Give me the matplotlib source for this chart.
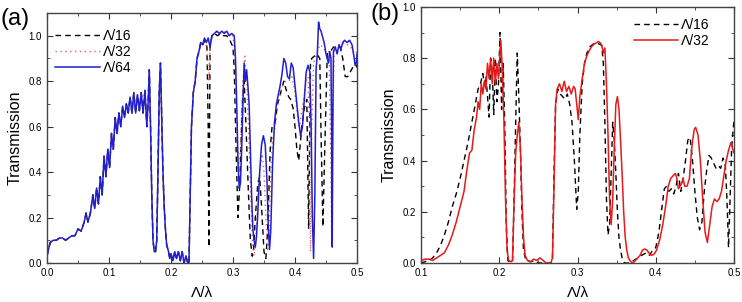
import matplotlib
matplotlib.use("Agg")
import matplotlib.pyplot as plt
from matplotlib.ticker import MultipleLocator

plt.rcParams['font.family'] = ['Liberation Sans', 'DejaVu Sans']

# panel (a): part where all three curves lie on top of each other (0 - 0.25)
a_base_x = [0.0, 0.005, 0.01, 0.015, 0.02, 0.025, 0.03, 0.035, 0.04, 0.045,
            0.05, 0.055, 0.06, 0.063, 0.066, 0.07, 0.074, 0.077, 0.08, 0.083,
            0.086, 0.089, 0.092, 0.095, 0.098, 0.101, 0.104, 0.107, 0.11, 0.113,
            0.116, 0.119, 0.122, 0.125, 0.128, 0.131, 0.134, 0.137, 0.14, 0.143,
            0.146, 0.149, 0.152, 0.155, 0.158, 0.161, 0.163, 0.165, 0.167, 0.169,
            0.171, 0.173, 0.175, 0.177, 0.179, 0.181, 0.183, 0.185, 0.187, 0.189,
            0.191, 0.193, 0.196, 0.198, 0.2, 0.203, 0.206, 0.209, 0.212, 0.215,
            0.218, 0.221, 0.224, 0.227, 0.229, 0.231, 0.233, 0.236, 0.239, 0.242,
            0.245, 0.248]
a_base_y = [0.03, 0.09, 0.10, 0.10, 0.11, 0.11, 0.10, 0.11, 0.12, 0.12,
            0.15, 0.14, 0.18, 0.22, 0.18, 0.22, 0.30, 0.24, 0.33, 0.26,
            0.38, 0.30, 0.47, 0.38, 0.50, 0.42, 0.57, 0.50, 0.64, 0.57,
            0.66, 0.60, 0.69, 0.64, 0.70, 0.66, 0.73, 0.66, 0.75, 0.66,
            0.74, 0.67, 0.75, 0.66, 0.76, 0.60, 0.70, 0.85, 0.60, 0.30,
            0.10, 0.05, 0.05, 0.10, 0.40, 0.75, 0.88, 0.65, 0.40, 0.25,
            0.15, 0.08, 0.05, 0.02, 0.04, 0.01, 0.05, 0.02, 0.05, 0.01,
            0.05, 0.00, 0.03, 0.00, 0.00, 0.30, 0.60, 0.75, 0.80, 0.90,
            0.93, 0.97]

# panel (a): Λ/64 beyond 0.25
a64_x = [0.251, 0.254, 0.257, 0.26, 0.263, 0.266, 0.27, 0.274, 0.278, 0.282,
         0.286, 0.29, 0.294, 0.298, 0.302, 0.304, 0.306, 0.308, 0.31, 0.312,
         0.314, 0.316, 0.318, 0.32, 0.322, 0.324, 0.326, 0.328, 0.33, 0.332,
         0.334, 0.336, 0.338, 0.34, 0.343, 0.346, 0.349, 0.352, 0.355, 0.357,
         0.359, 0.361, 0.364, 0.367, 0.37, 0.373, 0.376, 0.379, 0.382, 0.385,
         0.388, 0.391, 0.394, 0.397, 0.4, 0.403, 0.406, 0.409, 0.412, 0.415,
         0.418, 0.421, 0.424, 0.426, 0.428, 0.43, 0.432, 0.434, 0.436, 0.438,
         0.44, 0.442, 0.444, 0.447, 0.45, 0.452, 0.454, 0.456, 0.458, 0.459,
         0.46, 0.461, 0.462, 0.465, 0.468, 0.471, 0.474, 0.477, 0.48, 0.484,
         0.488, 0.492, 0.495, 0.497, 0.499, 0.5]
a64_y = [0.96, 0.99, 0.97, 0.99, 0.95, 1.00, 1.01, 1.02, 1.01, 1.02,
         1.01, 1.02, 1.00, 1.01, 1.00, 0.90, 0.70, 0.45, 0.33, 0.35,
         0.50, 0.70, 0.88, 0.80, 0.85, 0.78, 0.70, 0.50, 0.30, 0.15,
         0.10, 0.07, 0.12, 0.22, 0.40, 0.52, 0.56, 0.52, 0.35, 0.15,
         0.06, 0.15, 0.45, 0.62, 0.70, 0.74, 0.78, 0.83, 0.90, 0.88,
         0.82, 0.81, 0.88, 0.86, 0.78, 0.70, 0.62, 0.56, 0.60, 0.72,
         0.84, 0.87, 0.84, 0.60, 0.20, 0.02, 0.30, 0.85, 0.92, 1.06,
         1.03, 1.02, 1.00, 0.97, 0.92, 0.90, 0.88, 0.93, 0.90, 0.60,
         0.07, 0.60, 0.93, 0.95, 0.92, 0.96, 0.94, 0.97, 0.98, 0.97,
         0.98, 0.96, 0.91, 0.87, 0.88, 0.92]

# panel (a): Λ/32 beyond 0.25
a32_x = [0.251, 0.255, 0.258, 0.261, 0.263, 0.266, 0.27, 0.275, 0.28, 0.285,
         0.29, 0.295, 0.3, 0.303, 0.306, 0.309, 0.312, 0.316, 0.319, 0.322,
         0.325, 0.328, 0.331, 0.334, 0.337, 0.34, 0.344, 0.347, 0.35, 0.353,
         0.356, 0.358, 0.361, 0.364, 0.368, 0.372, 0.376, 0.38, 0.385, 0.39,
         0.395, 0.4, 0.404, 0.407, 0.41, 0.414, 0.418, 0.421, 0.423, 0.425,
         0.427, 0.43, 0.435, 0.44, 0.445, 0.45, 0.455, 0.457, 0.459, 0.461,
         0.463, 0.468, 0.475, 0.48, 0.485, 0.49, 0.495, 0.5]
a32_y = [0.96, 0.98, 0.95, 0.80, 0.95, 1.00, 1.01, 1.02, 1.01, 1.02,
         1.01, 1.00, 1.00, 0.90, 0.60, 0.42, 0.50, 0.80, 0.91, 0.80,
         0.60, 0.35, 0.10, 0.03, 0.10, 0.30, 0.42, 0.48, 0.40, 0.20,
         0.06, 0.10, 0.40, 0.55, 0.60, 0.70, 0.74, 0.78, 0.80, 0.80,
         0.82, 0.75, 0.65, 0.60, 0.65, 0.72, 0.80, 0.82, 0.60, 0.05,
         0.60, 0.88, 0.92, 0.96, 0.95, 0.93, 0.93, 0.60, 0.14, 0.60,
         0.94, 0.96, 0.96, 0.97, 0.96, 0.95, 0.92, 0.93]

# panel (a): Λ/16 beyond 0.25
a16_x = [0.251, 0.255, 0.258, 0.26, 0.261, 0.262, 0.263, 0.266, 0.27, 0.275,
         0.28, 0.285, 0.29, 0.295, 0.3, 0.302, 0.305, 0.308, 0.311, 0.315,
         0.318, 0.321, 0.325, 0.328, 0.331, 0.333, 0.336, 0.34, 0.343, 0.346,
         0.35, 0.353, 0.356, 0.36, 0.363, 0.368, 0.372, 0.377, 0.382, 0.386,
         0.39, 0.393, 0.397, 0.4, 0.403, 0.406, 0.411, 0.415, 0.419, 0.422,
         0.425, 0.427, 0.431, 0.435, 0.44, 0.442, 0.445, 0.448, 0.452, 0.457,
         0.462, 0.467, 0.473, 0.477, 0.481, 0.485, 0.489, 0.493, 0.497, 0.5]
a16_y = [0.96, 0.98, 0.95, 0.60, 0.07, 0.50, 0.95, 1.00, 1.01, 1.00,
         1.01, 1.00, 1.00, 0.98, 0.95, 0.85, 0.50, 0.20, 0.35, 0.70,
         0.80, 0.60, 0.30, 0.10, 0.03, 0.05, 0.20, 0.35, 0.38, 0.25,
         0.05, 0.02, 0.15, 0.50, 0.60, 0.62, 0.70, 0.75, 0.80, 0.76,
         0.73, 0.72, 0.68, 0.60, 0.50, 0.45, 0.60, 0.68, 0.72, 0.15,
         0.88, 0.90, 0.91, 0.92, 0.90, 0.57, 0.16, 0.50, 0.92, 0.93,
         0.95, 0.95, 0.95, 0.90, 0.82, 0.82, 0.84, 0.86, 0.88, 0.86]

# panel (b): Λ/32
b32_x = [0.1, 0.105, 0.11, 0.115, 0.12, 0.125, 0.13, 0.135, 0.14, 0.145,
         0.15, 0.155, 0.158, 0.162, 0.165, 0.168, 0.171, 0.173, 0.175, 0.177,
         0.179, 0.181, 0.183, 0.185, 0.187, 0.189, 0.191, 0.193, 0.195, 0.197,
         0.199, 0.201, 0.202, 0.204, 0.206, 0.208, 0.21, 0.212, 0.215, 0.217,
         0.219, 0.221, 0.223, 0.225, 0.227, 0.229, 0.231, 0.233, 0.236, 0.24,
         0.244, 0.248, 0.252, 0.256, 0.26, 0.266, 0.268, 0.27, 0.272, 0.274,
         0.277, 0.28, 0.283, 0.286, 0.289, 0.292, 0.295, 0.297, 0.299, 0.301,
         0.303, 0.306, 0.309, 0.312, 0.315, 0.318, 0.321, 0.324, 0.327, 0.329,
         0.331, 0.333, 0.335, 0.337, 0.339, 0.341, 0.343, 0.345, 0.347, 0.349,
         0.351, 0.353, 0.355, 0.357, 0.359, 0.361, 0.363, 0.365, 0.368, 0.371,
         0.374, 0.377, 0.38, 0.383, 0.386, 0.389, 0.392, 0.395, 0.398, 0.401,
         0.405, 0.409, 0.413, 0.416, 0.419, 0.422, 0.425, 0.427, 0.429, 0.431,
         0.433, 0.435, 0.437, 0.44, 0.443, 0.446, 0.449, 0.451, 0.454, 0.457,
         0.46, 0.463, 0.466, 0.469, 0.472, 0.475, 0.478, 0.481, 0.484, 0.487,
         0.49, 0.493, 0.496, 0.499, 0.5]
b32_y = [0.01, 0.015, 0.015, 0.01, 0.02, 0.03, 0.04, 0.07, 0.11, 0.16,
         0.22, 0.28, 0.35, 0.43, 0.44, 0.52, 0.57, 0.63, 0.60, 0.70,
         0.66, 0.71, 0.68, 0.78, 0.72, 0.80, 0.70, 0.80, 0.70, 0.78,
         0.72, 0.82, 0.87, 0.75, 0.55, 0.25, 0.05, 0.01, 0.005, 0.01,
         0.25, 0.43, 0.50, 0.55, 0.45, 0.25, 0.10, 0.03, 0.01, 0.005,
         0.015, 0.01, 0.02, 0.01, 0.0, 0.0, 0.02, 0.30, 0.62, 0.68,
         0.70, 0.67, 0.71, 0.67, 0.69, 0.66, 0.69, 0.68, 0.62, 0.56,
         0.65, 0.72, 0.78, 0.81, 0.83, 0.845, 0.855, 0.86, 0.865, 0.86,
         0.85, 0.82, 0.84, 0.70, 0.50, 0.25, 0.15, 0.25, 0.45, 0.62,
         0.65, 0.60, 0.48, 0.35, 0.20, 0.10, 0.05, 0.02, 0.005, 0.0,
         0.01, 0.02, 0.03, 0.05, 0.055, 0.05, 0.035, 0.03, 0.035, 0.05,
         0.09, 0.15, 0.23, 0.30, 0.33, 0.34, 0.35, 0.33, 0.29, 0.30,
         0.31, 0.33, 0.30, 0.30, 0.33, 0.45, 0.52, 0.53, 0.50, 0.40,
         0.25, 0.12, 0.08, 0.15, 0.22, 0.25, 0.24, 0.25, 0.28, 0.34,
         0.40, 0.44, 0.47, 0.44, 0.43]

# panel (b): Λ/16
b16_x = [0.1, 0.11, 0.115, 0.12, 0.125, 0.13, 0.135, 0.14, 0.145, 0.15,
         0.155, 0.16, 0.165, 0.17, 0.173, 0.176, 0.179, 0.181, 0.183, 0.185,
         0.187, 0.189, 0.191, 0.193, 0.195, 0.197, 0.199, 0.201, 0.203, 0.205,
         0.207, 0.209, 0.211, 0.214, 0.217, 0.219, 0.221, 0.223, 0.225, 0.227,
         0.229, 0.231, 0.234, 0.24, 0.245, 0.25, 0.266, 0.268, 0.27, 0.272,
         0.275, 0.278, 0.281, 0.284, 0.287, 0.29, 0.293, 0.296, 0.299, 0.301,
         0.303, 0.306, 0.309, 0.312, 0.316, 0.32, 0.324, 0.328, 0.331, 0.333,
         0.335, 0.337, 0.339, 0.341, 0.343, 0.345, 0.347, 0.349, 0.351, 0.353,
         0.355, 0.357, 0.36, 0.365, 0.368, 0.372, 0.377, 0.382, 0.388, 0.392,
         0.396, 0.4, 0.404, 0.408, 0.411, 0.414, 0.417, 0.42, 0.423, 0.426,
         0.429, 0.432, 0.435, 0.438, 0.441, 0.444, 0.447, 0.45, 0.453, 0.456,
         0.459, 0.462, 0.465, 0.468, 0.471, 0.474, 0.477, 0.48, 0.483, 0.486,
         0.489, 0.491, 0.493, 0.495, 0.497, 0.5]
b16_y = [0.0, 0.01, 0.02, 0.04, 0.07, 0.11, 0.16, 0.22, 0.27, 0.33,
         0.40, 0.47, 0.55, 0.63, 0.68, 0.70, 0.74, 0.70, 0.73, 0.65,
         0.57, 0.80, 0.75, 0.58, 0.80, 0.63, 0.70, 0.90, 0.60, 0.78,
         0.55, 0.15, 0.01, 0.0, 0.01, 0.25, 0.55, 0.82, 0.65, 0.45,
         0.20, 0.05, 0.01, 0.005, 0.01, 0.0, 0.0, 0.02, 0.35, 0.62,
         0.68, 0.66, 0.65, 0.64, 0.66, 0.62, 0.55, 0.40, 0.21, 0.28,
         0.50, 0.70, 0.78, 0.82, 0.845, 0.855, 0.86, 0.855, 0.85, 0.78,
         0.55, 0.25, 0.11, 0.15, 0.35, 0.55, 0.48, 0.35, 0.20, 0.10,
         0.05, 0.02, 0.0, 0.0, 0.005, 0.01, 0.02, 0.03, 0.04, 0.03,
         0.05, 0.06, 0.12, 0.22, 0.29, 0.30, 0.28, 0.29, 0.27, 0.30,
         0.35, 0.28, 0.33, 0.40, 0.48, 0.49, 0.40, 0.28, 0.18, 0.13,
         0.16, 0.28, 0.36, 0.42, 0.41, 0.39, 0.37, 0.38, 0.37, 0.41,
         0.38, 0.25, 0.06, 0.25, 0.45, 0.56]

fig = plt.figure(figsize=(7.42, 3.02), dpi=100)
ax1 = fig.add_axes([47 / 742, 39 / 302, 310 / 742, 250 / 302])
ax2 = fig.add_axes([421 / 742, 39 / 302, 313 / 742, 256 / 302])

ax1.plot(a_base_x + a16_x, a_base_y + a16_y, color='black', ls=(0, (4, 3)),
         lw=1.0, label='Λ/16')
ax1.plot(a_base_x + a32_x, a_base_y + a32_y, color='#e06060', ls=(0, (1, 2.5)),
         lw=1.0, label='Λ/32')
ax1.plot(a_base_x + a64_x, a_base_y + a64_y, color='#1f1fd0', lw=1.1,
         label='Λ/64')

ax2.plot(b16_x, b16_y, color='black', ls=(0, (4, 3)), lw=1.0, label='Λ/16')
ax2.plot(b32_x, b32_y, color='#e8191a', lw=1.1, label='Λ/32')

ax1.set_xlim(0, 0.5)
ax1.set_ylim(0, 1.1)
ax1.yaxis.set_major_locator(MultipleLocator(0.2))
ax1.yaxis.set_minor_locator(MultipleLocator(0.1))
ax2.set_xlim(0.1, 0.5)
ax2.set_ylim(0, 1.0)
ax2.yaxis.set_major_locator(MultipleLocator(0.2))
ax2.yaxis.set_minor_locator(MultipleLocator(0.1))

for ax in (ax1, ax2):
    ax.xaxis.set_major_locator(MultipleLocator(0.1))
    ax.xaxis.set_minor_locator(MultipleLocator(0.05))
    ax.tick_params(which='both', direction='in', top=True, right=True,
                   labelsize=7, color='#333333')
    ax.tick_params(which='major', length=4)
    ax.tick_params(which='minor', length=2)
    for s in ax.spines.values():
        s.set_color('#444444')
        s.set_linewidth(1.0)
    ax.set_ylabel('Transmission', fontsize=11.5)
    ax.set_xlabel('Λ/λ', fontsize=11, labelpad=6)

ax1.legend(loc='upper left', bbox_to_anchor=(0.0, 0.97), frameon=False,
           fontsize=10, handlelength=3.2, handletextpad=0.2, labelspacing=0.15,
           borderaxespad=0.2)
ax2.legend(loc='upper right', bbox_to_anchor=(0.95, 0.99), frameon=False,
           fontsize=10, handlelength=3.2, handletextpad=0.2, labelspacing=0.15,
           borderaxespad=0.2)

fig.text(0.0, 0.975, '(a)', fontsize=17, va='top', ha='left')
fig.text(371 / 742, 0.99, '(b)', fontsize=17, va='top', ha='left')

fig.savefig('out.png', dpi=100)
